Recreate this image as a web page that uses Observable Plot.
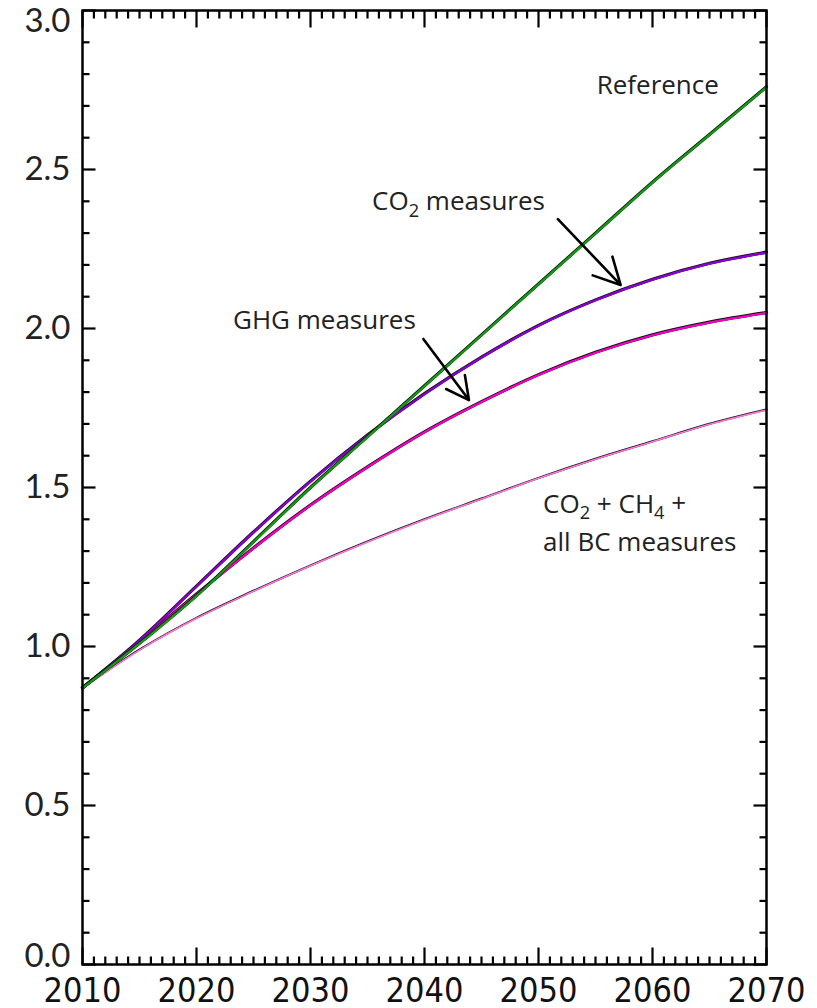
<!DOCTYPE html>
<html><head><meta charset="utf-8">
<script src="https://cdn.jsdelivr.net/npm/d3@7"></script>
<script src="https://cdn.jsdelivr.net/npm/@observablehq/plot@0.6"></script>
<style>
html,body{margin:0;padding:0;background:#fff;}
#chart svg{display:block;}
</style></head><body><div id="chart"></div>
<script>
// ---- data ----
const years      = [2010, 2015, 2020, 2025, 2030, 2035, 2040, 2045, 2050, 2055, 2060, 2065, 2070];
const reference  = [0.87, 1.01, 1.16, 1.33, 1.50, 1.66, 1.82, 1.98, 2.14, 2.30, 2.46, 2.61, 2.76];
const co2Measures= [0.87, 1.02, 1.19, 1.36, 1.52, 1.665, 1.795, 1.91, 2.01, 2.09, 2.155, 2.205, 2.24];
const ghgMeasures= [0.87, 1.015, 1.165, 1.31, 1.445, 1.565, 1.675, 1.77, 1.855, 1.925, 1.98, 2.02, 2.05];
const co2Ch4Bc   = [0.87, 0.99, 1.09, 1.175, 1.255, 1.33, 1.40, 1.465, 1.53, 1.59, 1.645, 1.70, 1.745];

const seriesNames  = ["CO₂ + CH₄ + all BC measures", "GHG measures", "CO₂ measures", "Reference"];
const seriesValues = [co2Ch4Bc, ghgMeasures, co2Measures, reference];
const seriesColors = ["#ff77dd", "#f000c0", "#8a00d0", "#129a12"];

const xTickLabels = [2010, 2020, 2030, 2040, 2050, 2060, 2070];
const yTickLabels = [0, 0.5, 1.0, 1.5, 2.0, 2.5, 3.0];

// annotation texts, anchored (start) at a year / value
const labelTexts  = ["Reference", "CO₂ measures", "GHG measures", "CO₂ + CH₄ +", "all BC measures"];
const labelYears  = [2055.1, 2035.4, 2023.2, 2050.4, 2050.4];
const labelValues = [2.763, 2.398, 2.026, 1.447, 1.328];

// arrows (from text to curve)
const arrowFromYear  = [2051.7, 2039.9];
const arrowFromValue = [2.344, 1.967];
const arrowToYear    = [2057.2, 2043.9];
const arrowToValue   = [2.137, 1.775];

// ---- tables for Plot ----
const rows = seriesNames.flatMap((s, k) => years.map((yr, i) => ({series: s, year: yr, value: seriesValues[k][i]})));
const labelRows = labelTexts.map((t, i) => ({text: t, year: labelYears[i], value: labelValues[i]}));
const arrowRows = arrowFromYear.map((_, i) => ({x1: arrowFromYear[i], y1: arrowFromValue[i], x2: arrowToYear[i], y2: arrowToValue[i]}));

const minorYears = d3.range(2010, 2071, 1);
const minorValues = d3.range(0, 31, 1).map(d => d / 10);

const W = 817, H = 1008, mL = 82, mR = 51, mT = 10, mB = 44;
const innerW = W - mL - mR, innerH = H - mT - mB;
const xDomain = [2010, 2070], yDomain = [0, 3];
// tick lengths in pixels converted to data units of each scale
const pxY = (yDomain[1] - yDomain[0]) / innerH;
const pxX = (xDomain[1] - xDomain[0]) / innerW;

const lineMarks = seriesNames.flatMap((s, k) => {
  const data = rows.filter(r => r.series === s);
  const thin = k === 0;
  return [
    Plot.line(data, {x: "year", y: "value", stroke: "#111", strokeWidth: thin ? 2.2 : 3.2, curve: "monotone-x"}),
    Plot.line(data, {x: "year", y: "value", stroke: seriesColors[k], strokeWidth: thin ? 1.6 : 2.3, curve: "monotone-x", dy: 0.4})
  ];
});

// inward ticks on all four sides, drawn as short links
const tw = 2.2;
const isMajorX = d => d % 10 === 0;
const isMajorY = d => Math.abs(d * 2 - Math.round(d * 2)) < 1e-9;
const lenX = d => (isMajorX(d) ? 17 : 8) * pxY;
const lenY = d => (isMajorY(d) ? 13 : 7) * pxX;
const tickMarks = [
  Plot.link(minorYears, {x1: d => d, x2: d => d, y1: yDomain[0], y2: d => yDomain[0] + lenX(d), stroke: "#000", strokeWidth: tw}),
  Plot.link(minorYears, {x1: d => d, x2: d => d, y1: yDomain[1], y2: d => yDomain[1] - lenX(d), stroke: "#000", strokeWidth: tw}),
  Plot.link(minorValues, {y1: d => d, y2: d => d, x1: xDomain[0], x2: d => xDomain[0] + lenY(d), stroke: "#000", strokeWidth: tw}),
  Plot.link(minorValues, {y1: d => d, y2: d => d, x1: xDomain[1], x2: d => xDomain[1] - lenY(d), stroke: "#000", strokeWidth: tw})
];

const chart = Plot.plot({
  width: W,
  height: H,
  marginLeft: mL,
  marginRight: mR,
  marginTop: mT,
  marginBottom: mB,
  style: {background: "#fff", overflow: "visible"},
  x: {domain: xDomain, label: null},
  y: {domain: yDomain, label: null},
  marks: [
    Plot.axisX(xTickLabels, {anchor: "bottom", tickSize: 0, tickPadding: 13, tickFormat: d => String(d), label: null,
      fontSize: 34, fontFamily: "DejaVu Sans Condensed, Roboto, sans-serif", fill: "#111"}),
    Plot.axisY(yTickLabels, {anchor: "left", tickSize: 0, tickPadding: 12, tickFormat: d => d.toFixed(1), label: null,
      fontSize: 33, fontFamily: "Lato, DejaVu Sans, sans-serif", fill: "#222"}),
    ...lineMarks,
    Plot.arrow(arrowRows, {x1: "x1", y1: "y1", x2: "x2", y2: "y2", stroke: "#000", strokeWidth: 2.6,
      headLength: 17, headAngle: 55, bend: 0}),
    Plot.text(labelRows, {x: "year", y: "value", text: "text", textAnchor: "start", lineAnchor: "middle",
      fontSize: 26, fontFamily: "Open Sans, Noto Sans, sans-serif", fill: "#222"}),
    ...tickMarks,
    Plot.frame({stroke: "#000", strokeWidth: 2.5})
  ]
});

// subscripts as real text tspans
chart.querySelectorAll("text").forEach(t => {
  const s = t.textContent;
  if (!/[₂₄]/.test(s) || t.children.length) return;
  t.textContent = "";
  const ns = "http://www.w3.org/2000/svg";
  let shifted = false;
  for (const ch of s) {
    const sub = ch === "₂" ? "2" : ch === "₄" ? "4" : null;
    const ts = document.createElementNS(ns, "tspan");
    if (sub) {
      ts.textContent = sub;
      ts.setAttribute("font-size", "0.7em");
      ts.setAttribute("dy", "0.35em");
      shifted = true;
    } else {
      ts.textContent = ch;
      if (shifted) { ts.setAttribute("dy", "-0.25em"); shifted = false; }
    }
    t.appendChild(ts);
  }
});

// keep the end labels inside the frame like the reference
chart.querySelectorAll('g[aria-label="y-axis tick label"] text').forEach(t => {
  const v = t.textContent;
  const tr = t.getAttribute("transform") || "";
  if (v === "3.0") t.setAttribute("transform", tr + " translate(0,11)");
  if (v === "0.0") t.setAttribute("transform", tr + " translate(0,-8)");
});

document.getElementById("chart").appendChild(chart);
</script>
</body></html>
